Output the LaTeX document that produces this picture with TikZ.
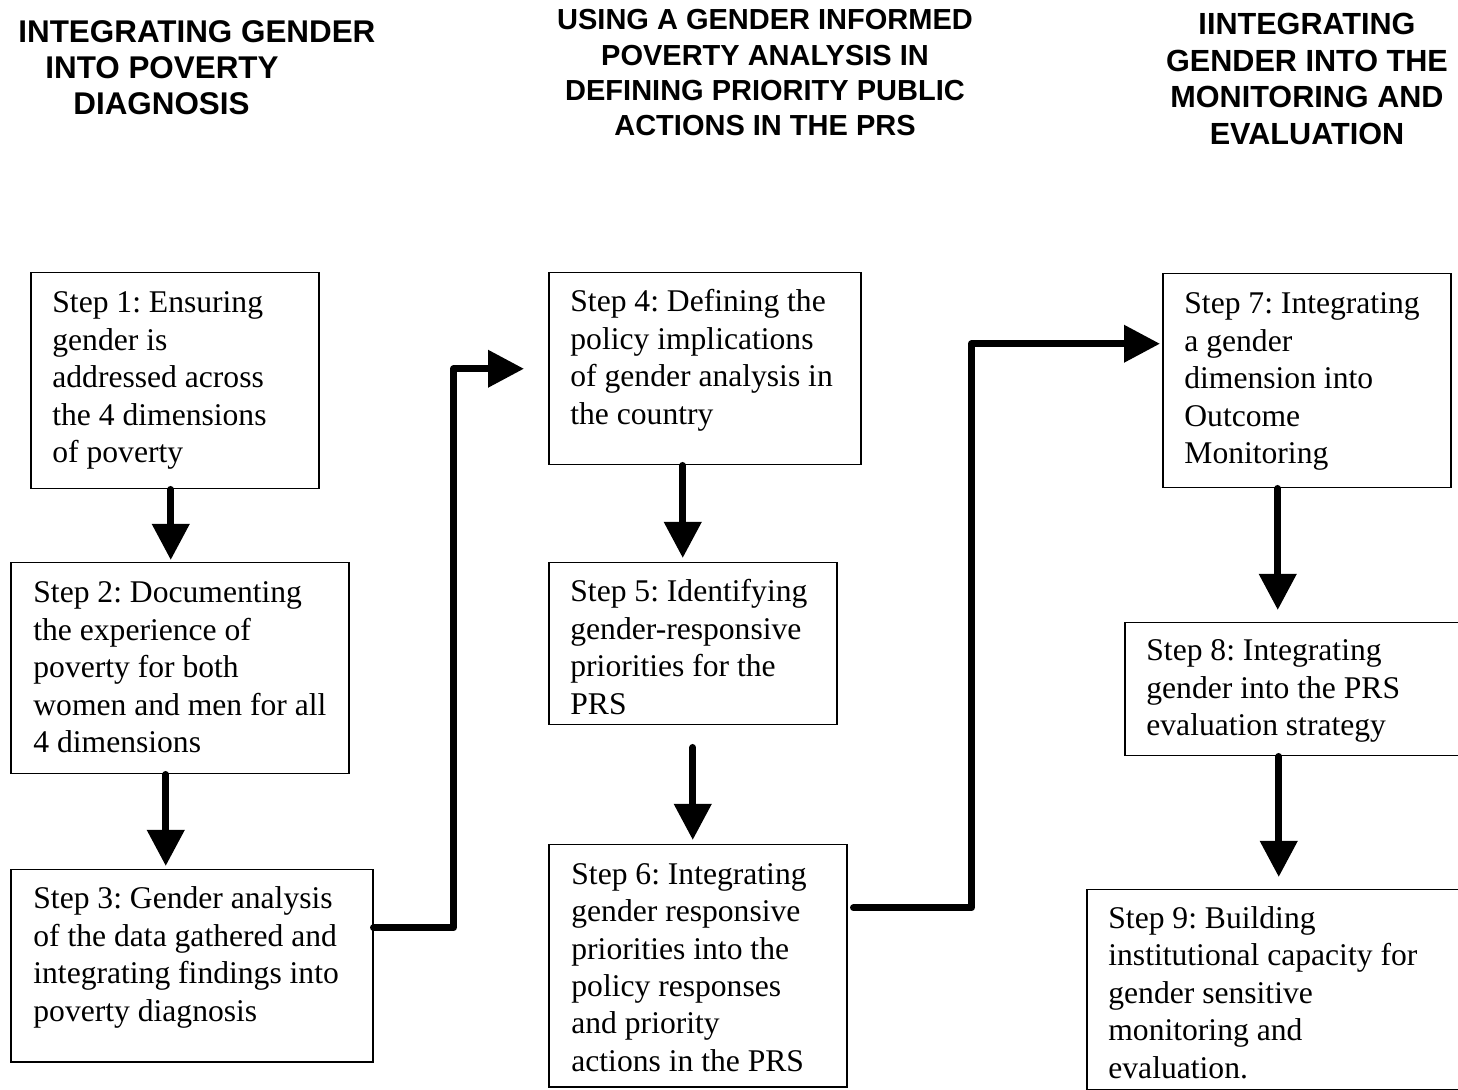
\documentclass[tikz,border=0pt]{standalone}
\usepackage{fontspec}
\setmainfont{Liberation Serif}
\setsansfont{Liberation Sans}
\usetikzlibrary{arrows.meta}
\frenchspacing
\begin{document}
\begin{tikzpicture}[x=0.5pt,y=-0.5pt,
  box/.style={draw, line width=0.75pt, anchor=north west, inner sep=0pt},
  txt/.style={anchor=base west, align=left, inner sep=0pt, font=\fontsize{15.8}{18.75}\selectfont},
  headA/.style={inner sep=0pt, align=left, anchor=base west, font=\sffamily\bfseries\fontsize{15.7}{18}\selectfont},
  headB/.style={inner sep=0pt, align=center, anchor=base, font=\sffamily\bfseries\fontsize{14.5}{17.7}\selectfont},
  headC/.style={inner sep=0pt, align=center, anchor=base, font=\sffamily\bfseries\fontsize{15.3}{18.25}\selectfont},
  flow/.style={line width=3.5pt, line cap=round, line join=round, -{Triangle[width=18pt,length=18pt]}}]
\useasboundingbox (0,0) rectangle (1458,1090);
\clip (0,0) rectangle (1458,1090);

% headings (base anchor = baseline of last line)
\node[headA] (h1) at (18,115) {INTEGRATING GENDER\\\hspace*{13.5pt}INTO POVERTY\\\hspace*{27.5pt}DIAGNOSIS};
\node[headB] (h2) at (765,136) {USING A GENDER INFORMED\\POVERTY ANALYSIS IN\\DEFINING PRIORITY PUBLIC\\ACTIONS IN THE PRS};
\node[headC] (h3) at (1307,144.5) {IINTEGRATING\\GENDER INTO THE\\MONITORING AND\\EVALUATION};

% boxes
\node[box, minimum width=144pt, minimum height=108pt] (b1) at (30,272) {};
\node[box, minimum width=169pt, minimum height=105.5pt] (b2) at (10,562) {};
\node[box, minimum width=181pt, minimum height=96pt] (b3) at (10,869) {};
\node[box, minimum width=156pt, minimum height=96pt] (b4) at (548,272) {};
\node[box, minimum width=144pt, minimum height=81pt] (b5) at (548,562) {};
\node[box, minimum width=149pt, minimum height=121pt] (b6) at (548,844) {};
\node[box, minimum width=144pt, minimum height=107pt] (b7) at (1162,273) {};
\node[box, minimum width=173pt, minimum height=66.5pt] (b8) at (1124,622) {};
\node[box, minimum width=192pt, minimum height=100pt] (b9) at (1086,889) {};

% texts (anchor at baseline of last line)
\node[txt] (t1) at ([shift={(11pt,-95.5pt)}]b1.north west) {Step 1: Ensuring\\gender is\\addressed across\\the 4 dimensions\\of poverty};
\node[txt] (t2) at ([shift={(11.5pt,-95.5pt)}]b2.north west) {Step 2: Documenting\\the experience of\\poverty for both\\women and men for all\\4 dimensions};
\node[txt] (t3) at ([shift={(11.5pt,-76.25pt)}]b3.north west) {Step 3: Gender analysis\\of the data gathered and\\integrating findings into\\poverty diagnosis};
\node[txt] (t4) at ([shift={(11pt,-76.25pt)}]b4.north west) {Step 4: Defining the\\policy implications\\of gender analysis in\\the country};
\node[txt] (t5) at ([shift={(11pt,-76.25pt)}]b5.north west) {Step 5: Identifying\\gender-responsive\\priorities for the\\PRS};
\node[txt] (t6) at ([shift={(11.5pt,-113.75pt)}]b6.north west) {Step 6: Integrating\\gender responsive\\priorities into the\\policy responses\\and priority\\actions in the PRS};
\node[txt] (t7) at ([shift={(11pt,-95.5pt)}]b7.north west) {Step 7: Integrating\\a gender\\dimension into\\Outcome\\Monitoring};
\node[txt] (t8) at ([shift={(11pt,-57pt)}]b8.north west) {Step 8: Integrating\\gender into the PRS\\evaluation strategy};
\node[txt] (t9) at ([shift={(11pt,-94.5pt)}]b9.north west) {Step 9: Building\\institutional capacity for\\gender sensitive\\monitoring and\\evaluation.};

% vertical connectors
\draw[flow, shorten >=1pt] ([xshift=-2pt]b1.south) -- ([xshift=-2pt]b1.south |- b2.north);
\draw[flow, shorten >=1.5pt] ([xshift=-7pt]b2.south) -- ([xshift=-7pt]b2.south |- b3.north);
\draw[flow, shorten >=2pt] ([xshift=-11pt]b4.south) -- ([xshift=-11pt]b4.south |- b5.north);
\draw[flow, shorten <=11pt, shorten >=2pt] (b5.south) -- (b5.south |- b6.north);
\draw[flow, shorten >=6pt] ([xshift=-14.5pt]b7.south) -- ([xshift=-14.5pt]b7.south |- b8.north);
\draw[flow, shorten >=6pt] ([xshift=-9.5pt]b8.south) -- ([xshift=-9.5pt]b8.south |- b9.north);

% elbow connectors
\draw[flow, shorten >=12pt] ([yshift=19pt]b3.east) -- ++(40pt,0) |- (b4.west);
\draw[flow, shorten >=1pt] ([xshift=3pt,yshift=29pt]b6.east) -- ++(59pt,0) |- ([yshift=18.5pt]b7.west);
\end{tikzpicture}
\end{document}
